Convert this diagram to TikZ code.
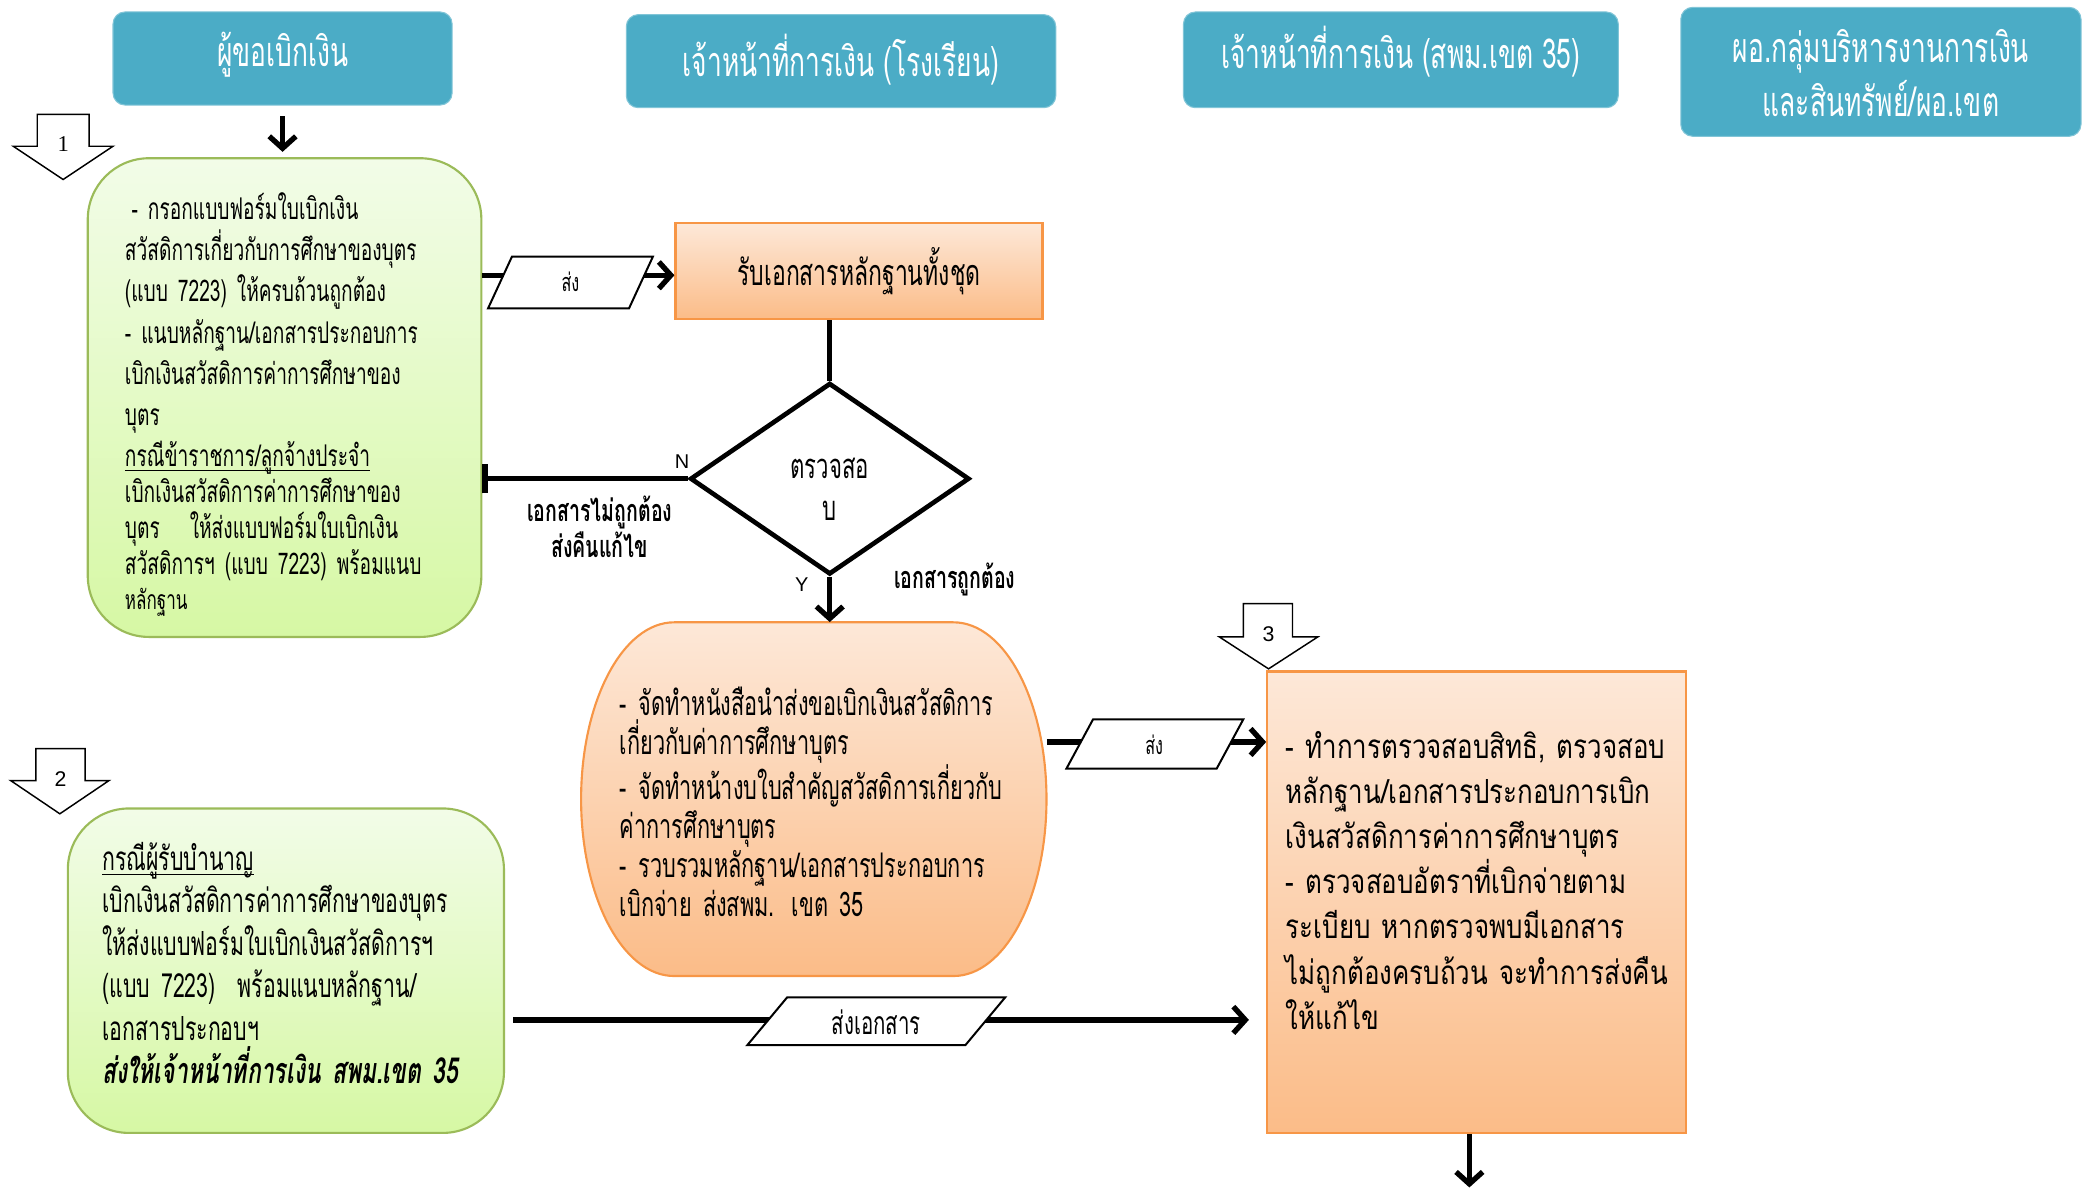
\documentclass[tikz,border=0pt]{standalone}
\usepackage{fontspec}
\newfontfamily\thai[Script=Thai,FakeStretch=0.64]{Loma}
\newfontfamily\thaiw[Script=Thai,FakeStretch=0.78]{Loma}
\newfontfamily\lsans{Liberation Sans}
\newfontfamily\lserif{Liberation Serif}
\usetikzlibrary{shapes.geometric,arrows.meta,calc}
\newcommand\myul[1]{\leavevmode\setbox0\hbox{#1}\rlap{\rule[-3.5pt]{\wd0}{1.1pt}}\box0}
\definecolor{hdr}{HTML}{4BACC6}
\definecolor{gtop}{HTML}{F2FCE8}
\definecolor{gbot}{HTML}{D6F8A4}
\definecolor{gbd}{HTML}{9BBB59}
\definecolor{otop}{HTML}{FDE8D8}
\definecolor{obot}{HTML}{FBBC88}
\definecolor{obd}{HTML}{F79646}
\tikzset{
  hdrbox/.style={rectangle, rounded corners=9pt, fill=hdr, draw=hdr!70!white, line width=0.8pt, inner sep=0pt},
  hdrtxt/.style={text=white, align=center, inner sep=0pt, font=\thai\fontsize{31}{41}\selectfont},
  greenbox/.style={rectangle, rounded corners=46pt, draw=gbd, line width=1.6pt,
    top color=gtop, bottom color=gbot, inner sep=0pt},
  orangebox/.style={rectangle, draw=obd, line width=1.6pt, top color=otop, bottom color=obot, inner sep=0pt},
  orangefill/.style={draw=obd, line width=1.6pt, top color=otop, bottom color=obot},
  boxtxt/.style={inner sep=0pt, align=left},
  conn/.style={line width=4pt, draw=black},
  arr/.style={conn, -{Straight Barb[length=9pt,width=20pt]}},
  para/.style={draw=black, line width=1.5pt, fill=white},
  blockarr/.style={draw=black, line width=1.1pt, fill=white, line join=miter},
  numlbl/.style={font=\lserif\fontsize{17}{17}\selectfont, inner sep=0pt},
  numlbls/.style={font=\lsans\fontsize{16}{16}\selectfont, inner sep=0pt},
  yn/.style={font=\lsans\fontsize{15}{15}\selectfont, inner sep=0pt},
  lbl/.style={font=\thai\bfseries\fontsize{23}{27}\selectfont, align=center, inner sep=0pt},
  smalllbl/.style={font=\thai\fontsize{19}{19}\selectfont, inner sep=0pt},
}
\begin{document}
\begin{tikzpicture}[x=1pt,y=1pt]
\useasboundingbox (0,0) rectangle (1568,-896);

% ---------- headers
\node[hdrbox, minimum width=255pt, minimum height=70pt] (h1) at (212.5,-44) {};
\node[hdrtxt] (h1t) at (212.5,-41) {ผู้ขอเบิกเงิน};
\node[hdrbox, minimum width=323pt, minimum height=70pt] (h2) at (632.5,-46) {};
\node[hdrtxt] (h2t) at (632.5,-45) {เจ้าหน้าที่การเงิน (โรงเรียน)};
\node[hdrbox, minimum width=327pt, minimum height=72pt] (h3) at (1053.5,-45) {};
\node[hdrtxt] (h3t) at (1053.5,-39) {เจ้าหน้าที่การเงิน (สพม.เขต 35)};
\node[hdrbox, minimum width=301pt, minimum height=97pt] (h4) at (1414.5,-54) {};
\node[hdrtxt] (h4t) at (1414.5,-55) {ผอ.กลุ่มบริหารงานการเงิน\\และสินทรัพย์/ผอ.เขต};

% ---------- block arrows with numbers
\draw[blockarr] (28,-86) -- (67,-86) -- (67,-110) -- (85,-110) -- (47.5,-135) -- (10,-110) -- (28,-110) -- cycle;
\node[numlbl] (n1) at (47.5,-108) {1};
\draw[blockarr] (27,-563) -- (64,-563) -- (64,-587) -- (82,-587) -- (45,-612) -- (8,-587) -- (27,-587) -- cycle;
\node[numlbls] (n2) at (45.5,-586) {2};
\draw[blockarr] (935,-454) -- (972,-454) -- (972,-479) -- (991,-479) -- (954,-503) -- (917,-479) -- (935,-479) -- cycle;
\node[numlbls] (n3) at (954,-477) {3};

% ---------- green box 1
\node[greenbox, minimum width=296pt, minimum height=360pt] (g1) at (214,-299) {};
\node[boxtxt, text width=240pt, font=\thai\fontsize{22.5}{31}\selectfont] (g1t) at (214,-304) {%
\hspace*{5pt}- กรอกแบบฟอร์มใบเบิกเงิน\\
สวัสดิการเกี่ยวกับการศึกษาของบุตร\\
(แบบ 7223) ให้ครบถ้วนถูกต้อง\\
- แนบหลักฐาน/เอกสารประกอบการ\\
เบิกเงินสวัสดิการค่าการศึกษาของ\\
บุตร\\
\myul{กรณีข้าราชการ/ลูกจ้างประจำ}\\[-4pt]
เบิกเงินสวัสดิการค่าการศึกษาของ\\[-4pt]
บุตร\quad ให้ส่งแบบฟอร์มใบเบิกเงิน\\[-4pt]
สวัสดิการฯ (แบบ 7223) พร้อมแนบ\\[-5pt]
{\fontsize{20}{20}\selectfont หลักฐาน}};

% ---------- green box 2
\node[greenbox, minimum width=328pt, minimum height=244pt] (g2) at (215,-730) {};
\node[boxtxt, text width=276pt, font=\thai\fontsize{25}{32}\selectfont] (g2t) at (215,-724) {%
\myul{กรณีผู้รับบำนาญ}\\
เบิกเงินสวัสดิการค่าการศึกษาของบุตร\\
ให้ส่งแบบฟอร์มใบเบิกเงินสวัสดิการฯ\\
(แบบ 7223)\ \ พร้อมแนบหลักฐาน/\\
เอกสารประกอบฯ\\
{\bfseries\itshape\fontsize{27}{32}\selectfont ส่งให้เจ้าหน้าที่การเงิน สพม.เขต 35}};

% ---------- orange rect 1
\node[orangebox, minimum width=276pt, minimum height=72pt,
      font=\thai\fontsize{27}{27}\selectfont] (r1) at (646,-204) {รับเอกสารหลักฐานทั้งชุด};

% ---------- decision
\node[diamond, draw=black, line width=3.5pt, fill=white, minimum width=210pt, minimum height=144pt,
      inner sep=0pt] (d) at (624,-360) {};
\node[boxtxt, align=center, font=\thai\fontsize{26}{32}\selectfont] (dt) at (624,-368) {ตรวจสอ\\บ};

% ---------- barrel box
\path[orangefill] (507,-468) -- (717,-468) .. controls (756,-468) and (787,-528) .. (787,-601)
   .. controls (787,-674) and (756,-734) .. (717,-734) -- (507,-734)
   .. controls (468,-734) and (437,-674) .. (437,-601)
   .. controls (437,-528) and (468,-468) .. (507,-468) -- cycle;
\node[inner sep=0pt, minimum width=350pt, minimum height=266pt] (b2) at (612,-601) {};
\node[boxtxt, anchor=west, text width=320pt, font=\thai\fontsize{25.5}{29.5}\selectfont] (b2t) at (466,-603) {%
- จัดทำหนังสือนำส่งขอเบิกเงินสวัสดิการ\\
เกี่ยวกับค่าการศึกษาบุตร\\
- จัดทำหน้างบใบสำคัญสวัสดิการเกี่ยวกับ\\
ค่าการศึกษาบุตร\\
- รวบรวมหลักฐาน/เอกสารประกอบการ\\
เบิกจ่าย ส่งสพม. เขต 35};

% ---------- orange rect 3
\node[orangebox, minimum width=315pt, minimum height=347pt] (r3) at (1110.5,-678.5) {};
\node[boxtxt, text width=287pt, font=\thaiw\fontsize{25}{34}\selectfont] (r3t) at (1110.5,-662) {%
\makebox[\linewidth][s]{- ทำการตรวจสอบสิทธิ, ตรวจสอบ}\\
หลักฐาน/เอกสารประกอบการเบิก\\
เงินสวัสดิการค่าการศึกษาบุตร\\
- ตรวจสอบอัตราที่เบิกจ่ายตาม\\
\makebox[\linewidth][s]{ระเบียบ หากตรวจพบมีเอกสาร}\\
\makebox[\linewidth][s]{ไม่ถูกต้องครบถ้วน จะทำการส่งคืน}\\
ให้แก้ไข};

% ---------- helper coordinates
\coordinate (p1c) at (429,-207);
\coordinate (p2c) at (868,-558);
\coordinate (p3c) at (659,-767);
\coordinate (endc) at (1105,-893);

% ---------- connectors
\draw[arr, shorten <=8pt, shorten >=4pt] (h1.south) -- (h1.south |- g1.north);
\draw[arr] (g1.east |- p1c) -- (r1.west |- p1c);
\draw[conn] (r1.south -| d.north) -- (d.north);
\draw[conn, -{Bar[width=22pt]}] (d.west) -- (g1.east |- d.west);
\draw[arr] (d.south) -- (d.south |- b2.north);
\draw[arr] (b2.east |- p2c) -- (r3.west |- p2c);
\draw[arr] (r3.south -| endc) -- (endc);
\draw[arr, shorten <=6pt, shorten >=13pt] (g2.east |- p3c) -- (r3.west |- p3c);

% ---------- data parallelograms
\draw[para] (385,-193) -- (491,-193) -- (473,-232) -- (367,-232) -- cycle;
\node[smalllbl] (s1) at (429,-212) {ส่ง};
\draw[para] (822,-541) -- (935,-541) -- (915,-578) -- (802,-578) -- cycle;
\node[smalllbl] (s2) at (868,-560) {ส่ง};
\draw[para] (592,-750) -- (756,-750) -- (726,-786) -- (562,-786) -- cycle;
\node[inner sep=0pt, font=\thai\fontsize{24}{24}\selectfont] (s3) at (659,-769) {ส่งเอกสาร};

% ---------- branch labels
\node[yn] (lN) at (513,-347) {N};
\node[yn] (lY) at (603,-440) {Y};
\node[lbl] (lno) at (451,-396) {เอกสารไม่ถูกต้อง\\ส่งคืนแก้ไข};
\node[lbl] (lyes) at (718,-436) {เอกสารถูกต้อง};
\end{tikzpicture}
\end{document}
